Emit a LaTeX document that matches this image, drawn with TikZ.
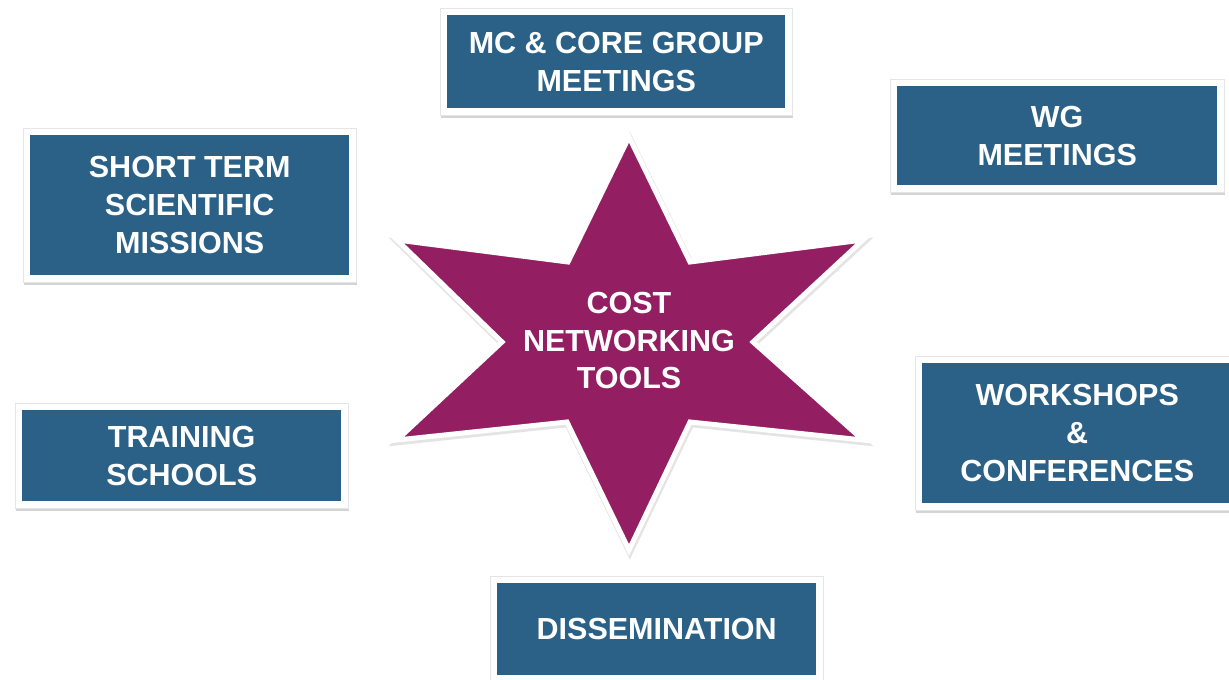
\documentclass[tikz,border=0pt]{standalone}
\usepackage{fontspec}
\setmainfont{Liberation Sans}
\usetikzlibrary{shadows,backgrounds,fit}
\definecolor{boxblue}{RGB}{43,97,135}
\definecolor{starpurple}{RGB}{147,31,98}
\tikzset{
  card/.style={fill=boxblue, text=white, font=\bfseries\fontsize{30.5}{38}\selectfont,
    align=center, inner sep=0pt, anchor=north west},
  frame/.style={fill=white, draw=black!10, line width=0.8pt, inner sep=7pt,
    drop shadow={shadow xshift=0.8pt, shadow yshift=-2.5pt, opacity=0.3, fill=black!55}},
  startext/.style={text=white, font=\bfseries\fontsize{30.5}{37.5}\selectfont, align=center, inner sep=0pt},
  starshape/.style={fill=starpurple, draw=white, line width=5pt, line join=miter},
  starshadow/.style={draw=black!30, line width=6.5pt, line join=miter, opacity=0.35},
}
\begin{document}
\begin{tikzpicture}[x=1pt,y=-1pt]
\useasboundingbox (0,0) rectangle (1229,680);

% boxes
\node[card, minimum width=338pt, minimum height=93pt] (mc) at (447,15) {MC \& CORE GROUP\\MEETINGS};
\node[card, minimum width=319pt, minimum height=140pt] (stsm) at (30,135) {SHORT TERM\\SCIENTIFIC\\MISSIONS};
\node[card, minimum width=319pt, minimum height=91pt] (train) at (22,410) {TRAINING\\SCHOOLS};
\node[card, minimum width=319pt, minimum height=92pt] (diss) at (497,583) {DISSEMINATION};
\node[card, minimum width=320pt, minimum height=99pt] (wg) at (897,86) {WG\\MEETINGS};
\node[card, minimum width=310pt, minimum height=140pt] (work) at (922,363) {WORKSHOPS\\\&\\CONFERENCES};

\begin{pgfonlayer}{background}
  \fill[white] (0,0) rectangle (1229,680);
  \node[frame, fit=(mc)] (mcf) {};
  \node[frame, fit=(stsm)] (stsmf) {};
  \node[frame, fit=(train)] (trainf) {};
  \node[frame, fit=(diss)] (dissf) {};
  \node[frame, fit=(wg)] (wgf) {};
  \node[frame, fit=(work)] (workf) {};
\end{pgfonlayer}

% star
\def\starpath{(629,137) -- (690,262) -- (863,240) -- (753,342) -- (863,440) -- (690,422)
  -- (629,550) -- (567,422) -- (397,440) -- (502,342) -- (397,240) -- (568,262) -- cycle}
\draw[starshadow, shift={(0.8,2)}] \starpath;
\draw[starshape] \starpath;
\node[startext] (star) at (629,340.5) {COST\\NETWORKING\\TOOLS};
\end{tikzpicture}
\end{document}
